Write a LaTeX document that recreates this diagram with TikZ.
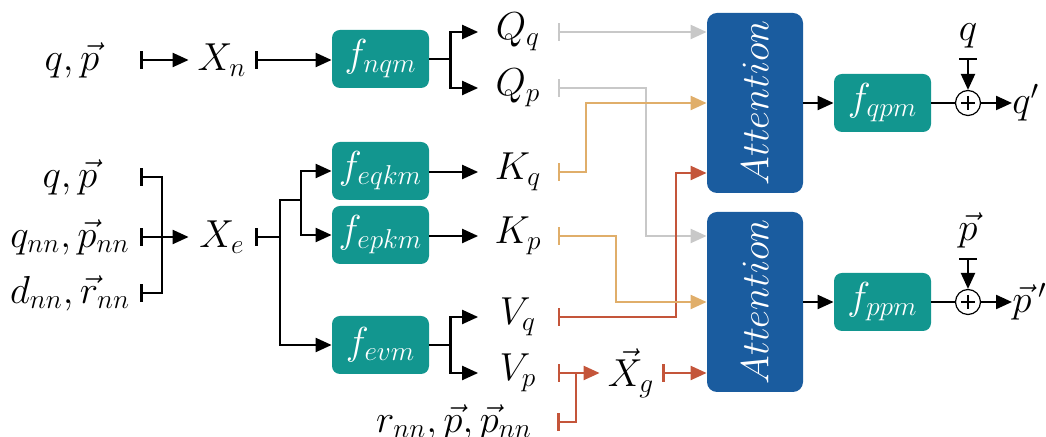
\RequirePackage{fix-cm}
\documentclass[tikz,border=0pt]{standalone}
\usetikzlibrary{arrows.meta,calc}
\definecolor{teal1}{HTML}{12968F}
\definecolor{blue1}{HTML}{1A5C9F}
\definecolor{orange1}{HTML}{E0AE6A}
\definecolor{red1}{HTML}{C4553A}
\definecolor{grey1}{HTML}{C8C8C8}
\tikzset{
  every node/.style={font=\fontsize{19.5}{22}\selectfont},
  lbl/.style={inner sep=0pt, minimum height=14pt},
  fbox/.style={fill=teal1, text=white, rounded corners=4pt, minimum width=48.5pt, minimum height=29pt, inner sep=0pt},
  attbox/.style={fill=blue1, text=white, rounded corners=5pt, minimum width=48pt, minimum height=90pt, inner sep=0pt},
  con/.style={line width=1.1pt},
  arr/.style={con, -{Triangle[length=8pt,width=7pt]}},
  barr/.style={con, {Bar[width=9pt,line width=1.1pt]}-{Triangle[length=8pt,width=7pt]}},
  bar/.style={con, {Bar[width=9pt,line width=1.1pt]}-},
  pluscirc/.style={circle, draw, line width=0.6pt, minimum size=12.5pt, inner sep=0pt},
}
\begin{document}
\begin{tikzpicture}[x=0.5pt,y=-0.5pt]
\useasboundingbox (0,0) rectangle (1046,437);
% top input branch
\node[lbl, minimum width=68pt] (inqp) at (72,60) {$q,\vec{p}$};
\node[lbl, minimum width=33pt] (Xn) at (222,60) {$X_n$};
\node[fbox] (fnqm) at (380.5,59) {$f_{nqm}$};
\node[lbl, minimum width=39.5pt] (Qq) at (518,32) {$Q_q$};
\node[lbl, minimum width=39.5pt] (Qp) at (518,88) {$Q_p$};
% lower inputs
\node[lbl, minimum width=70pt] (in2) at (70,177) {$q,\vec{p}$};
\node[lbl, minimum width=70pt] (in3) at (70,237) {$q_{nn},\vec{p}_{nn}$};
\node[lbl, minimum width=70pt] (in4) at (70,293) {$d_{nn},\vec{r}_{nn}$};
\node[lbl, minimum width=33pt] (Xe) at (222,237) {$X_e$};
\node[fbox] (feqkm) at (380.5,171) {$f_{eqkm}$};
\node[fbox] (fepkm) at (380.5,235) {$f_{epkm}$};
\node[fbox] (fevm) at (380.5,345) {$f_{evm}$};
\node[lbl, minimum width=39.5pt] (Kq) at (518,172) {$K_q$};
\node[lbl, minimum width=39.5pt] (Kp) at (518,236) {$K_p$};
\node[lbl, minimum width=39.5pt] (Vq) at (518,317) {$V_q$};
\node[lbl, minimum width=39.5pt] (Vp) at (518,373) {$V_p$};
\node[lbl, minimum width=103pt] (rnn) at (454,422) {$r_{nn},\vec{p},\vec{p}_{nn}$};
\node[lbl, minimum width=31pt] (Xg) at (631,373) {$\vec{X}_g$};
% attention
\node[attbox] (att1) at (755,103) {\rotatebox{90}{$Attention$}};
\node[attbox] (att2) at (755,302) {\rotatebox{90}{$Attention$}};
\node[fbox] (fqpm) at (882.5,103) {$f_{qpm}$};
\node[fbox] (fppm) at (882.5,302) {$f_{ppm}$};
\node[pluscirc] (plus1) at (968,103) {};
\node[pluscirc] (plus2) at (968,302) {};
\draw[line width=1.2pt] ($(plus1)+(-7,0)$) -- ($(plus1)+(7,0)$) ($(plus1)+(0,-7)$) -- ($(plus1)+(0,7)$);
\draw[line width=1.2pt] ($(plus2)+(-7,0)$) -- ($(plus2)+(7,0)$) ($(plus2)+(0,-7)$) -- ($(plus2)+(0,7)$);
\node[lbl, anchor=west] (qout) at (1012,103) {$q'$};
\node[lbl, anchor=west] (pout) at (1012,302) {$\vec{p}\,'$};
\node[lbl, anchor=south, minimum height=10pt] (qin) at (968,48) {$q$};
\node[lbl, anchor=south, minimum height=10pt] (pin) at (968,248) {$\vec{p}$};
\coordinate (qbar) at (968,58);
\coordinate (pbar) at (968,258);
% black connectors
\draw[barr] (inqp.east) -- (Xn.west);
\draw[barr] (Xn.east) -- (Xn.east -| fnqm.west);
\draw[arr] (fnqm.east) -- ++(21,0) |- (Qq.west);
\draw[arr] (fnqm.east) -- ++(21,0) |- (Qp.west);
\coordinate (jL) at (162,237);
\draw[bar] (in2.east) -| (jL);
\draw[bar] (in4.east) -| (jL);
\draw[barr] (in3.east) -- (Xe.west);
\coordinate (jE) at (280,237);
\coordinate (jE2) at (301,200);
\draw[bar] (Xe.east) -- (jE);
\draw[arr] (jE) |- (fevm.west);
\draw[con] (jE) |- (jE2);
\draw[arr] (jE2) |- (feqkm.west);
\draw[arr] (jE2) |- (fepkm.west);
\draw[arr] (feqkm.east |- Kq.west) -- (Kq.west);
\draw[arr] (fepkm.east |- Kp.west) -- (Kp.west);
\draw[arr] (fevm.east) -- ++(21,0) |- (Vq.west);
\draw[arr] (fevm.east) -- ++(21,0) |- (Vp.west);
\draw[arr] (att1.east) -- (fqpm.west);
\draw[arr] (att2.east) -- (fppm.west);
\draw[con] (fqpm.east) -- (plus1.west);
\draw[con] (fppm.east) -- (plus2.west);
\draw[arr] (plus1.east) -- (qout.west);
\draw[arr] (plus2.east) -- (pout.west);
\draw[barr] (qbar) -- (plus1.north);
\draw[barr] (pbar) -- (plus2.north);
% grey
\draw[barr, color=grey1] (Qq.east) -- (Qq.east -| att1.west);
\draw[barr, color=grey1] (Qp.east) -- ++(88,0) |- ($(att2.west)+(0,-66)$);
% red
\draw[barr, color=red1] (Vq.east) -- ++(118,0) |- ($(att1.west)+(0,70)$);
\draw[barr, color=red1] (Vp.east) -- (Xg.west);
\draw[bar, color=red1] (rnn.east) -| ($(Vp.east)+(18,0)$);
\draw[barr, color=red1] (Xg.east) -- (Xg.east -| att2.west);
% orange
\draw[barr, color=orange1] (Kq.east) -- ++(28,0) |- (att1.west);
\draw[barr, color=orange1] (Kp.east) -- ++(58,0) |- (att2.west);
\end{tikzpicture}
\end{document}
